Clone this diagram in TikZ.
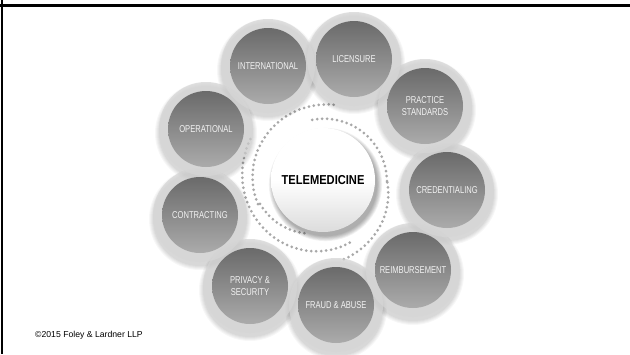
\documentclass[tikz,border=0pt]{standalone}
\usepackage{fontspec}
\setmainfont{Liberation Sans}
\newfontfamily\narrowfont[FakeStretch=0.76]{Liberation Sans}
\newfontfamily\hubfont[FakeStretch=0.86]{Liberation Sans}
\usetikzlibrary{calc}
\definecolor{ringc}{HTML}{D6D6D6}
\definecolor{topc}{HTML}{6A6A6A}
\definecolor{botc}{HTML}{ABABAB}
\definecolor{dotc}{HTML}{A8A8A8}
\definecolor{txtc}{HTML}{F2F2F2}
\definecolor{hubedge}{HTML}{DCDCDC}
\tikzset{
  topic/.style={circle, minimum size=76bp, inner sep=0pt, top color=topc, bottom color=botc,
    text=txtc, align=center, font=\narrowfont\fontsize{10}{11.2}\selectfont},
  hub/.style={circle, minimum size=104bp, inner sep=0pt, top color=white, bottom color=hubedge,
    middle color=white, text=black, font=\hubfont\bfseries\fontsize{13}{15}\selectfont},
  ring/.style={fill=ringc, opacity=0.72},
  ringshadow/.style={fill=black, opacity=0.03},
  dotline/.style={draw=dotc, line width=3bp, line cap=round, dash pattern=on 0bp off 5bp},
  frameline/.style={draw=black},
  note/.style={font=\fontsize{8.7}{10}\selectfont, text=black, inner sep=0pt, anchor=west}
}
\newcommand\dotspiral[4]{%
  \draw[dotline] plot[domain=#1:#2, samples=100, variable=\t]
    ({323+(#3+(#4-(#3))*(\t-(#1))/(#2-(#1)))*cos(\t)},
     {181-(#3+(#4-(#3))*(\t-(#1))/(#2-(#1)))*sin(\t)});}
\begin{document}
\begin{tikzpicture}[x=1bp, y=-1bp]
\useasboundingbox (0,0) rectangle (630,354);
\fill[white] (0,0) rectangle (630,354);
% frame
\draw[frameline, line width=2.6bp] (0,5.3) -- (630,5.3);
\draw[frameline, line width=2bp] (2.3,0) -- (2.3,354);
% centres
\coordinate (cint) at (268,66);
\coordinate (clic) at (354,59);
\coordinate (cpra) at (425,106);
\coordinate (ccre) at (447,190);
\coordinate (crei) at (413,270);
\coordinate (cfra) at (336,305);
\coordinate (cpri) at (250,286);
\coordinate (ccon) at (200,215);
\coordinate (cope) at (206,129);
\coordinate (ctel) at (323,180);
% dotted swirl
\dotspiral{82}{200}{77}{69}
\dotspiral{200}{252}{67}{55}
\dotspiral{0}{102}{64}{62}
\dotspiral{-75}{0}{81}{64}
\dotspiral{150}{295}{84}{67}
% ring shadows
\foreach \c in {cint,clic,cpra,ccre,crei,cfra,cpri,ccon,cope}{
  \foreach \k in {1,...,5}{
    \fill[ringshadow] ($(\c)+(0,4)$) circle[radius={46+\k}];
  }
}
% rings
\foreach \c in {cint,clic,cpra,ccre,crei,cfra,cpri,ccon,cope}{
  \fill[ring] (\c) circle[radius=47];
}
% topics
\node[topic] (int) at (cint) {INTERNATIONAL};
\node[topic] (lic) at (clic) {LICENSURE};
\node[topic] (pra) at (cpra) {PRACTICE\\STANDARDS};
\node[topic] (cre) at (ccre) {CREDENTIALING};
\node[topic] (rei) at (crei) {REIMBURSEMENT};
\node[topic] (fra) at (cfra) {FRAUD \& ABUSE};
\node[topic] (pri) at (cpri) {PRIVACY \&\\SECURITY};
\node[topic] (con) at (ccon) {CONTRACTING};
\node[topic] (ope) at (cope) {OPERATIONAL};
% hub shadow
\foreach \k in {1,...,7}{
  \fill[black, opacity=0.05] ($(ctel)+(2.5,4.5)$) circle[radius={51+0.8*\k}];
}
\node[hub] (tel) at (ctel) {TELEMEDICINE};
% copyright
\node[note] (copy) at (35,335) {\textcopyright 2015 Foley \& Lardner LLP};
\end{tikzpicture}
\end{document}
